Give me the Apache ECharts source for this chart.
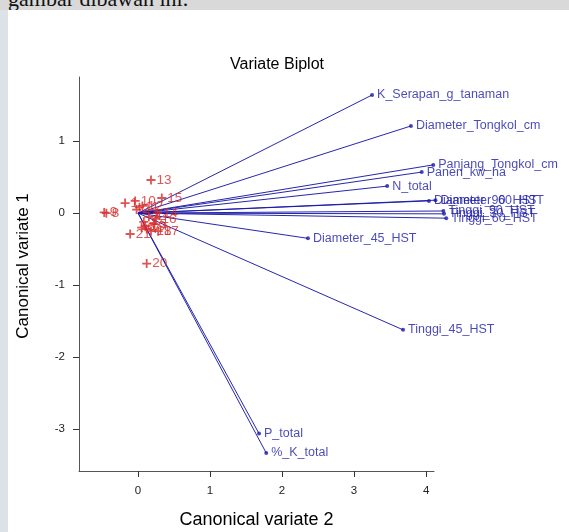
<!DOCTYPE html>
<html>
<head>
<meta charset="utf-8">
<script src="https://cdn.jsdelivr.net/npm/echarts@6/dist/echarts.min.js"></script>
<style>
html,body{margin:0;padding:0;width:569px;height:532px;overflow:hidden;background:#dde1e8;}
#top{position:absolute;left:0;top:0;width:569px;height:10px;background:#d9d9d9;overflow:hidden;}
#top span{position:absolute;left:8px;top:-14px;font-family:"Liberation Serif",serif;font-size:22px;color:#111;}
#chart{position:absolute;left:8px;top:10px;width:561px;height:522px;background:#fff;}
</style>
</head>
<body>
<div id="top"><span>gambar dibawah ini.</span></div>
<div id="chart"></div>
<script>
// Variable vectors (Canonical variate 2, Canonical variate 1)
const varNames = ["K_Serapan_g_tanaman","Diameter_Tongkol_cm","Panjang_Tongkol_cm","Panen_kw_ha","N_total",
  "Diameter_90_HST","Diameter_60_HST","Tinggi_90_HST","Tinggi_30_HST","Tinggi_60_HST",
  "Diameter_45_HST","Tinggi_45_HST","P_total","%_K_total"];
const varX = [3.25, 3.79, 4.10, 3.94, 3.46, 4.04, 4.13, 4.24, 4.25, 4.28, 2.36, 3.68, 1.68, 1.78];
const varY = [1.64, 1.21, 0.67, 0.57, 0.375, 0.17, 0.18, 0.03, -0.01, -0.07, -0.35, -1.62, -3.06, -3.33];

// Observations (genotypes)
const obsLabels = ["1","2","3","4","5","6","7","8","9","10","11","12","13","14","15","16","17","18","19","20","21"];
const obsX = [-0.18, -0.02, 0.08, 0.15, 0.22, 0.05, 0.12, -0.44, -0.47, -0.04, 0.02, 0.06, 0.18, 0.27, 0.33, 0.25, 0.28, 0.18, 0.10, 0.12, -0.11];
const obsY = [0.14, 0.05, -0.12, -0.05, -0.15, -0.20, -0.22, 0.00, 0.01, 0.17, 0.08, 0.10, 0.46, 0.00, 0.21, -0.08, -0.25, -0.25, -0.18, -0.70, -0.29];

const xTicks = [0,1,2,3,4];
const yTicks = [-3,-2,-1,0,1];

const blue = "#1a1aa6";
const red = "#d42a2a";
const font = "Liberation Sans, Arial, sans-serif";

const chart = echarts.init(document.getElementById('chart'));
const option = {
  backgroundColor: '#fff',
  animation: false,
  title: {
    text: 'Variate Biplot', left: 264, top: 42, textAlign: 'center',
    textStyle: {fontFamily: font, fontSize: 16, fontWeight: 'normal', color: '#000'}
  },
  grid: {left: 71, right: 135, top: 67, bottom: 61, containLabel: false, outerBoundsMode: 'none'},
  xAxis: {
    type: 'value', min: -0.82, max: 4.11, splitLine: {show: false},
    axisLine: {show: true, onZero: false, lineStyle: {color: '#555', width: 1}},
    axisTick: {show: true, inside: false, length: 6, customValues: xTicks, lineStyle: {color: '#333'}},
    axisLabel: {customValues: xTicks, color: '#222', fontFamily: font, fontSize: 11.5, margin: 14},
    name: 'Canonical variate 2', nameLocation: 'middle', nameGap: 40,
    nameTextStyle: {fontFamily: font, fontSize: 18, color: '#000'}
  },
  yAxis: {
    type: 'value', min: -3.58, max: 1.89, splitLine: {show: false},
    axisLine: {show: true, onZero: false, lineStyle: {color: '#555', width: 1}},
    axisTick: {show: true, inside: false, length: 6, customValues: yTicks, lineStyle: {color: '#333'}},
    axisLabel: {customValues: yTicks, color: '#222', fontFamily: font, fontSize: 11.5, margin: 14},
    name: 'Canonical variate 1', nameLocation: 'middle', nameGap: 47,
    nameTextStyle: {fontFamily: font, fontSize: 17, color: '#000', padding: [0, 0, 0, 16]}
  },
  series: [
    {
      type: 'lines', coordinateSystem: 'cartesian2d', silent: true, clip: false,
      lineStyle: {color: blue, width: 1, opacity: 0.95},
      data: varX.map((x, i) => ({coords: [[0, 0], [x, varY[i]]]}))
    },
    {
      type: 'scatter', symbol: 'circle', symbolSize: 4, clip: false,
      itemStyle: {color: blue},
      label: {show: true, position: 'right', distance: 3, formatter: p => p.data[2],
        color: blue, fontFamily: font, fontSize: 12.5},
      data: varX.map((x, i) => [x, varY[i], varNames[i]])
    },
    {
      type: 'scatter', symbol: 'path://M4,0H6V4H10V6H6V10H4V6H0V4H4Z', symbolSize: 9, clip: false,
      itemStyle: {color: red},
      label: {show: true, position: 'right', distance: 1, formatter: p => p.data[2],
        color: red, fontFamily: font, fontSize: 13.5},
      data: obsX.map((x, i) => [x, obsY[i], obsLabels[i]])
    }
  ]
};
chart.setOption(option);
</script>
</body>
</html>
